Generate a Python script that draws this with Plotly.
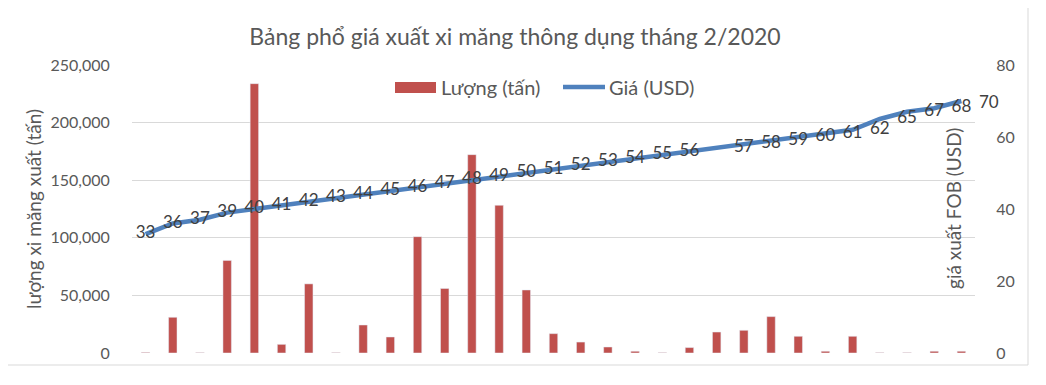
import plotly.graph_objects as go

# ---- data ----
bar_name = "Lượng (tấn)"
line_name = "Giá (USD)"
title_text = "Bảng phổ giá xuất xi măng thông dụng tháng 2/2020"
left_title = "lượng xi măng xuất (tấn)"
right_title = "giá xuất FOB (USD)"

categories = list(range(31))
volume = [500, 31000, 300, 80400, 233800, 7500, 60000, 300, 24300, 13900,
          101000, 56000, 172200, 128200, 54700, 16800, 9500, 5200, 1500, 300,
          4700, 18200, 19700, 31600, 14500, 1500, 14500, 300, 300, 1500, 1500]
price = [33, 36, 37, 39, 40, 41, 42, 43, 44, 45, 46, 47, 48, 49, 50, 51, 52, 53,
         54, 55, 56, 57, 58, 59, 60, 61, 62, 65, 67, 68, 70]
# data labels as they appear in the chart (category position, value)
label_cats = [0, 1, 2, 3, 4, 5, 6, 7, 8, 9, 10, 11, 12, 13, 14, 15, 16, 17, 18,
              19, 20, 22, 23, 24, 25, 26, 27, 28, 29, 30, 31]
label_vals = [33, 36, 37, 39, 40, 41, 42, 43, 44, 45, 46, 47, 48, 49, 50, 51, 52,
              53, 54, 55, 56, 57, 58, 59, 60, 61, 62, 65, 67, 68, 70]
y1_ticks = [0, 50000, 100000, 150000, 200000, 250000]
y2_ticks = [0, 20, 40, 60, 80]

RED = "#C0504D"
BLUE = "#4F81BD"
GREY = "#595959"
LABEL = "#404040"
FONT = "Lato"

OFF = 8  # page body margin
W, H = 1046 - 2 * OFF, 385 - 2 * OFF
L, T = 132 - OFF, 65 - OFF
R = W - (975 - OFF)
B = H - (353 - OFF)
pw, ph = W - L - R, H - T - B


def px(xp):
    return (xp - OFF - L) / pw


def py(yp):
    return (H - B - (yp - OFF)) / ph


n_cat = len(categories)
x_range = [-0.5, n_cat - 0.5]
in_x = [c for c in label_cats if c < n_cat]
in_v = [v for c, v in zip(label_cats, label_vals) if c < n_cat]

fig = go.Figure()
fig.add_trace(go.Bar(x=categories, y=volume, name=bar_name, marker_color=RED,
                     width=0.31, showlegend=False))
fig.add_trace(go.Scatter(x=categories, y=price, name=line_name, mode="lines",
                         line=dict(color=BLUE, width=4.5), yaxis="y2",
                         showlegend=False))
fig.add_trace(go.Scatter(x=in_x, y=in_v, mode="text",
                         text=[str(v) for v in in_v],
                         textposition="middle center",
                         textfont=dict(family=FONT, size=17, color=LABEL),
                         yaxis="y2", cliponaxis=False, showlegend=False,
                         hoverinfo="skip"))
# labels that sit beyond the last category (placed via paper x from category)
for c, v in zip(label_cats, label_vals):
    if c >= n_cat:
        xpaper = (c - x_range[0]) / (x_range[1] - x_range[0])
        fig.add_annotation(x=xpaper, y=v, xref="paper", yref="y2", text=str(v),
                           showarrow=False, xanchor="center", yanchor="middle",
                           font=dict(family=FONT, size=17, color=LABEL))

fig.update_layout(
    width=W, height=H,
    margin=dict(l=L, r=R, t=T, b=B),
    paper_bgcolor="white", plot_bgcolor="white",
    font=dict(family=FONT, color=GREY, size=15),
    title=dict(text=title_text, x=(515 - OFF) / W, xanchor="center",
               y=1 - (37 - OFF) / H, yanchor="middle", yref="container",
               font=dict(family=FONT, size=23, color=GREY)),
    xaxis=dict(range=x_range, showticklabels=False, showgrid=False,
               zeroline=False, showline=False, ticks=""),
    yaxis=dict(range=[0, 250000], tickvals=y1_ticks, tickformat=",",
               showgrid=True, gridcolor="#D9D9D9", gridwidth=1,
               zeroline=False, showline=False, ticks="outside", ticklen=18,
               tickcolor="rgba(0,0,0,0)",
               tickfont=dict(family=FONT, size=16, color=GREY)),
    yaxis2=dict(range=[0, 80], tickvals=y2_ticks, overlaying="y", side="right",
                showgrid=False, zeroline=False, showline=False,
                ticks="outside", ticklen=17, tickcolor="rgba(0,0,0,0)",
                tickfont=dict(family=FONT, size=16, color=GREY)),
    bargap=0.7,
)

# chart border
fig.add_shape(type="rect", xref="paper", yref="paper",
              x0=px(5), x1=px(1028), y0=py(365), y1=py(3),
              line=dict(color="#D9D9D9", width=1), layer="below")

# axis titles
fig.add_annotation(text=left_title, xref="paper", yref="paper",
                   x=px(33), y=0.5, textangle=-90, showarrow=False,
                   xanchor="center", yanchor="middle",
                   font=dict(family=FONT, size=19, color=GREY))
fig.add_annotation(text=right_title, xref="paper", yref="paper",
                   x=px(953), y=0.5, textangle=-90, showarrow=False,
                   xanchor="center", yanchor="middle",
                   font=dict(family=FONT, size=19, color=GREY))

# legend (custom)
ly = py(87)
fig.add_shape(type="rect", xref="paper", yref="paper",
              x0=px(395), x1=px(436), y0=py(93), y1=py(82),
              fillcolor=RED, line=dict(width=0))
fig.add_annotation(text=bar_name, xref="paper", yref="paper", x=px(439), y=ly,
                   xanchor="left", yanchor="middle", showarrow=False,
                   font=dict(family=FONT, size=20, color=GREY))
fig.add_shape(type="line", xref="paper", yref="paper",
              x0=px(563), x1=px(605), y0=ly, y1=ly,
              line=dict(color=BLUE, width=4.5))
fig.add_annotation(text=line_name, xref="paper", yref="paper", x=px(607), y=ly,
                   xanchor="left", yanchor="middle", showarrow=False,
                   font=dict(family=FONT, size=20, color=GREY))

fig.write_html("out.html")
